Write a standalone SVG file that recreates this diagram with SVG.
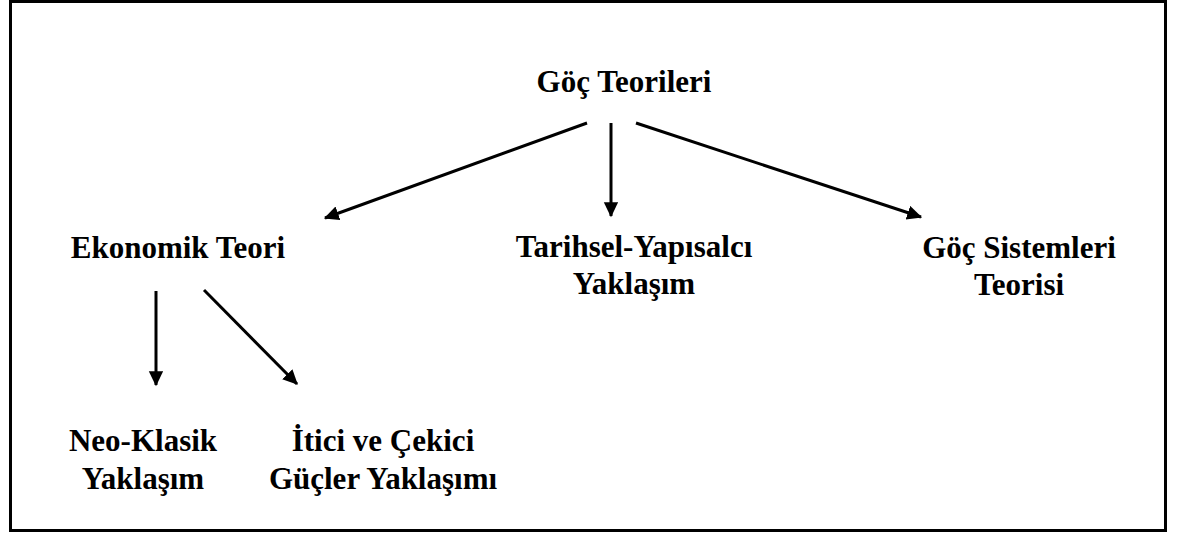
<svg xmlns="http://www.w3.org/2000/svg" width="1180" height="537" viewBox="0 0 1180 537">
<style>
text{font-family:'Liberation Serif','Times New Roman','DejaVu Serif',serif;font-weight:700;font-size:31px;fill:#000;text-anchor:middle}
.c{stroke:#000;stroke-width:3;fill:none}
</style>
<defs>
<marker id="ah" markerWidth="6" markerHeight="6" refX="4.6" refY="2.4" orient="auto" markerUnits="strokeWidth">
<path d="M0,0 L5,2.4 L0,4.8 Z" fill="#000"/>
</marker>
</defs>
<rect x="10.5" y="1.5" width="1155" height="529" fill="#fff" stroke="#000" stroke-width="3"/>
<g id="connectors">
<line class="c" x1="587" y1="123" x2="325" y2="218" marker-end="url(#ah)"/>
<line class="c" x1="611" y1="123" x2="611" y2="216" marker-end="url(#ah)"/>
<line class="c" x1="636" y1="123" x2="921" y2="217" marker-end="url(#ah)"/>
<line class="c" x1="156" y1="291" x2="156" y2="385" marker-end="url(#ah)"/>
<line class="c" x1="204" y1="290" x2="297" y2="384" marker-end="url(#ah)"/>
</g>
<g id="n-root"><text font-family="Liberation Serif" x="624" y="92">Göç Teorileri</text></g>
<g id="n-ekonomik"><text font-family="Liberation Serif" x="178" y="258">Ekonomik Teori</text></g>
<g id="n-tarihsel"><text font-family="Liberation Serif" x="634" y="257">Tarihsel-Yapısalcı<tspan x="634" dy="37">Yaklaşım</tspan></text></g>
<g id="n-sistem"><text font-family="Liberation Serif" x="1019" y="258">Göç Sistemleri<tspan x="1019" dy="37">Teorisi</tspan></text></g>
<g id="n-neo"><text font-family="Liberation Serif" x="143" y="451">Neo-Klasik<tspan x="143" dy="38">Yaklaşım</tspan></text></g>
<g id="n-itici"><text font-family="Liberation Serif" x="383" y="451">İtici ve Çekici<tspan x="383" dy="38">Güçler Yaklaşımı</tspan></text></g>
</svg>
